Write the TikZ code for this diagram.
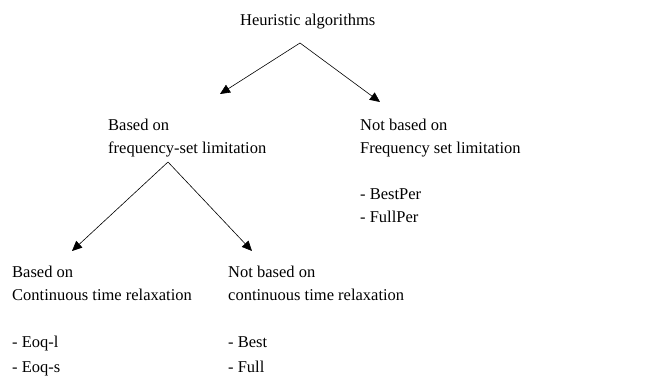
\documentclass[tikz,border=0pt]{standalone}
\usepackage{fontspec}
\setmainfont{Liberation Serif}
\usetikzlibrary{arrows.meta, positioning}

\begin{document}
\begin{tikzpicture}[
  x=1pt, y=-1pt,
  txt/.style={align=left, anchor=north west, inner sep=0pt, font=\fontsize{16.5}{23}\selectfont},
  arr/.style={-{Triangle[length=10pt, width=9pt]}, semithick}
]
  \useasboundingbox (0,0) rectangle (645,377);
  % text blocks
  \node[txt, anchor=base west] (heur) at (240,26) {Heuristic algorithms};
  \node[txt] (freq) at (108,118.5) {Based on\\frequency-set limitation};
  \node[txt] (nofreq) at (360,118.5) {Not based on\\Frequency set limitation\\[23pt]- BestPer\\- FullPer};
  \node[txt] (cont) at (12,265.5) {Based on\\Continuous time relaxation\\[24pt]- Eoq-l\\[2pt]- Eoq-s};
  \node[txt] (nocont) at (228,265.5) {Not based on\\continuous time relaxation\\[24pt]- Best\\[2pt]- Full};
  % arrow ends
  \coordinate (heurfork) at (300,43);
  \coordinate (freqtip) at (220,94);
  \coordinate (nofreqtip) at (380,102);
  \coordinate (freqfork) at (168,162);
  \coordinate (conttip) at (72,251);
  \coordinate (nocontip) at (252,251);
  \draw[arr] (heurfork) -- (freqtip);
  \draw[arr] (heurfork) -- (nofreqtip);
  \draw[arr] (freqfork) -- (conttip);
  \draw[arr] (freqfork) -- (nocontip);
\end{tikzpicture}
\end{document}
